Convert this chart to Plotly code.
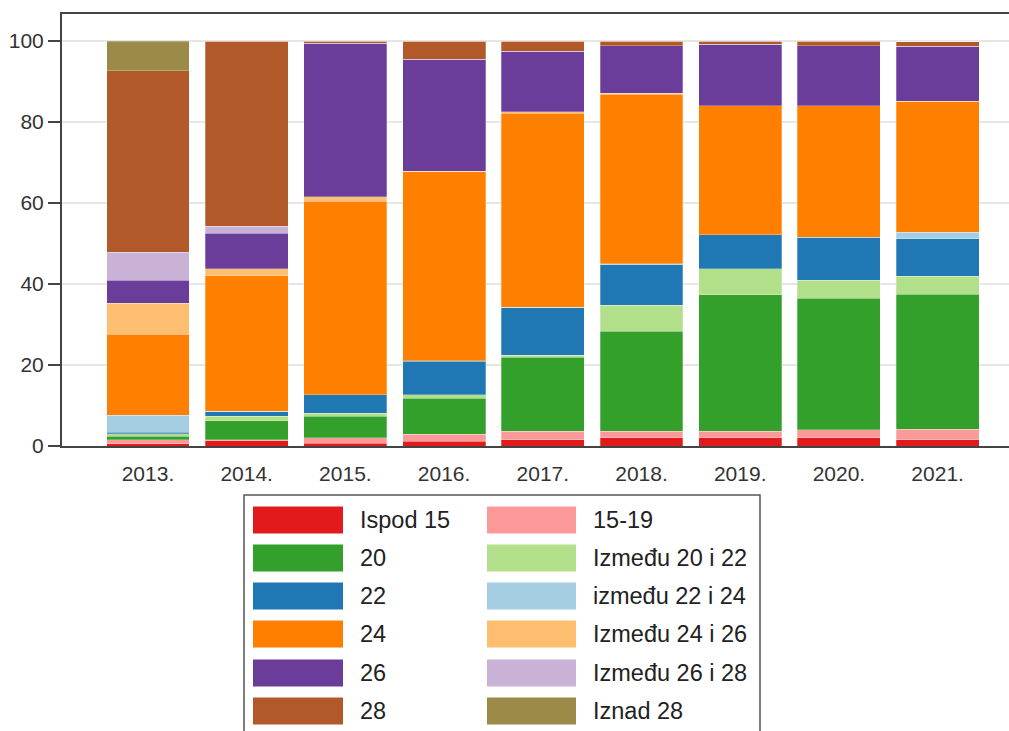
import plotly.graph_objects as go

years = ["2013.", "2014.", "2015.", "2016.", "2017.", "2018.", "2019.", "2020.", "2021."]

series_names = ["Ispod 15", "15-19", "20", "Između 20 i 22", "22", "između 22 i 24",
                "24", "Između 24 i 26", "26", "Između 26 i 28", "28", "Iznad 28"]
series_colors = ["#e31a1c", "#fb9a99", "#33a02c", "#b2df8a", "#1f78b4", "#a6cee3",
                 "#ff7f00", "#fdbf6f", "#6a3d9a", "#cab2d6", "#b15928", "#9c8a48"]

ispod_15 = [0.5, 1.3, 0.7, 1.2, 1.6, 2.1, 2.1, 2.1, 1.5]
r15_19 = [1.1, 0.3, 1.3, 1.7, 2.0, 1.5, 1.5, 1.9, 2.7]
s20 = [0.8, 4.6, 5.3, 8.9, 18.3, 24.8, 33.7, 32.5, 33.3]
s20_22 = [0.6, 1.1, 0.8, 0.8, 0.5, 6.4, 6.5, 4.4, 4.4]
s22 = [0.4, 1.2, 4.5, 8.3, 11.8, 10.0, 8.4, 10.7, 9.3]
s22_24 = [4.2, 0.1, 0.1, 0.1, 0.1, 0.2, 0.0, 0.0, 1.6]
s24 = [20.0, 33.5, 47.8, 46.7, 47.9, 41.9, 31.8, 32.4, 32.3]
s24_26 = [7.6, 1.7, 1.1, 0.2, 0.3, 0.2, 0.0, 0.0, 0.0]
s26 = [5.7, 8.8, 37.9, 27.6, 15.0, 11.7, 15.2, 14.8, 13.6]
s26_28 = [6.9, 1.7, 0.0, 0.0, 0.0, 0.0, 0.0, 0.0, 0.0]
s28 = [44.9, 45.7, 0.5, 4.5, 2.5, 1.2, 0.8, 1.2, 1.2]
iznad_28 = [7.3, 0.0, 0.0, 0.0, 0.0, 0.0, 0.0, 0.0, 0.0]

series_values = [ispod_15, r15_19, s20, s20_22, s22, s22_24,
                 s24, s24_26, s26, s26_28, s28, iznad_28]

y_ticks = [0, 20, 40, 60, 80, 100]

FONT = "Liberation Sans, Arial, Helvetica, sans-serif"

fig = go.Figure()
for name, color, vals in zip(series_names, series_colors, series_values):
    fig.add_trace(go.Bar(
        x=years, y=vals, name=name,
        marker=dict(color=color, line=dict(width=0.6, color="rgba(255,255,255,0.45)")),
        showlegend=False,
    ))

# figure geometry (pixels)
W, H = 1009, 731
L, R, T, B = 62, 0, 14, 285
PW = W - L - R
PH = H - T - B


def px(x):
    return (x - L) / PW


def py(y):
    return (H - B - y) / PH


shapes = []
annotations = []
# legend box
shapes.append(dict(type="rect", xref="paper", yref="paper",
                   x0=px(244), x1=px(760), y0=py(745), y1=py(495),
                   line=dict(color="#555555", width=1.5), fillcolor="white", layer="above"))
row_centers = [520, 558, 596, 634, 673, 711]
col_swatch = [(253, 343), (487, 576)]
col_text = [358, 591]
for i, (name, color) in enumerate(zip(series_names, series_colors)):
    row, col = divmod(i, 2)
    yc = row_centers[row]
    x0, x1 = col_swatch[col]
    shapes.append(dict(type="rect", xref="paper", yref="paper",
                       x0=px(x0), x1=px(x1), y0=py(yc + 13.5), y1=py(yc - 13.5),
                       line=dict(width=0), fillcolor=color, layer="above"))
    annotations.append(dict(xref="paper", yref="paper", x=px(col_text[col]), y=py(yc),
                            text=name, showarrow=False, xanchor="left", yanchor="middle",
                            font=dict(family=FONT, size=23.5, color="#222222")))

fig.update_layout(
    barmode="stack",
    bargap=0.16,
    width=W, height=H,
    margin=dict(l=L, r=R, t=T, b=B, pad=0),
    paper_bgcolor="white",
    plot_bgcolor="white",
    font=dict(family=FONT, size=20, color="#333333"),
    shapes=shapes,
    annotations=annotations,
    xaxis=dict(
        type="category", range=[-0.871, 8.723],
        showline=True, linecolor="#444444", linewidth=2, mirror=True,
        ticks="", showgrid=False,
        ticklabelstandoff=8,
        tickfont=dict(size=21, color="#333333"),
    ),
    yaxis=dict(
        range=[0, 106.7], tickvals=y_ticks,
        showline=True, linecolor="#444444", linewidth=2,
        ticks="outside", ticklen=12, tickwidth=1.5, tickcolor="#444444",
        showgrid=True, gridcolor="#e6e6e6", gridwidth=1.5,
        zeroline=False,
        tickfont=dict(size=21, color="#333333"),
    ),
)

fig.write_html(
    "out.html",
    config={"displayModeBar": False},
    post_script="document.body.style.margin='0';document.body.style.overflow='hidden';"
                "document.documentElement.style.overflow='hidden';",
)
